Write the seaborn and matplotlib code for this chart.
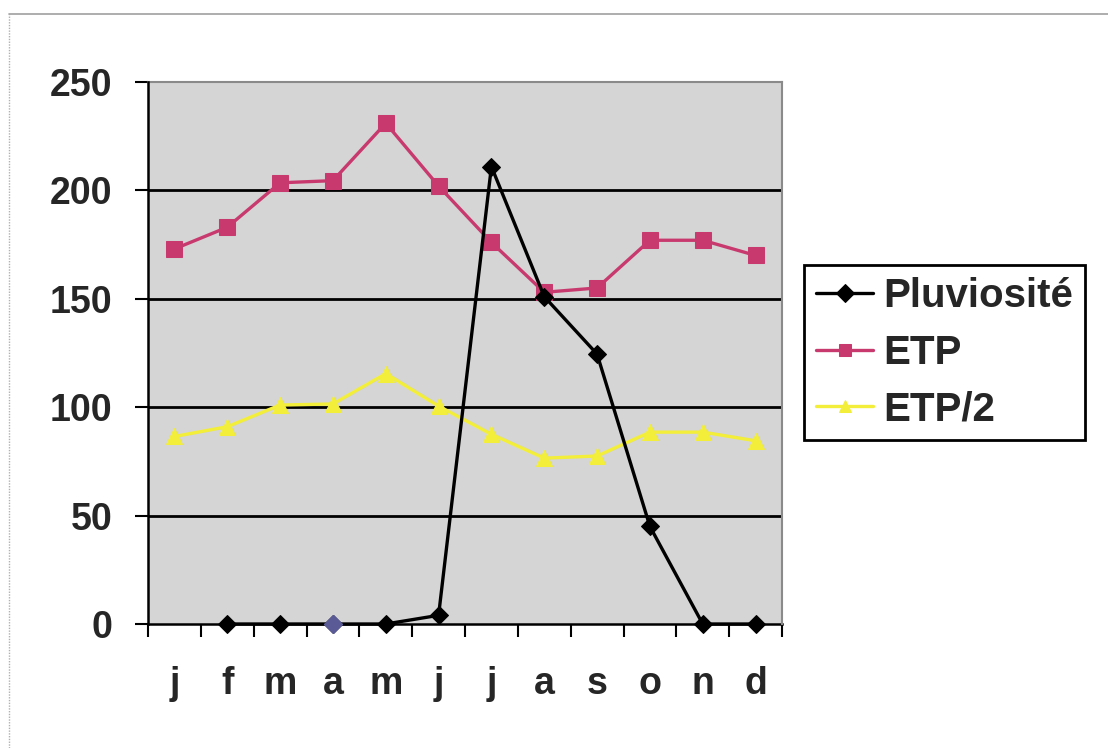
import numpy as np
import pandas as pd
import matplotlib
matplotlib.use("Agg")
import matplotlib.pyplot as plt
import seaborn as sns
from matplotlib.lines import Line2D
from matplotlib.ticker import FixedLocator, NullFormatter

# Monthly data
months = ["j", "f", "m", "a", "m", "j", "j", "a", "s", "o", "n", "d"]
pluviosite = [np.nan, 0, 0, 0, 0, 4, 211, 151, 124.5, 45, 0, 0]
etp = [173, 183, 203.5, 204.5, 231, 202, 176, 153, 155, 177, 177, 170]
etp_demi = [86.5, 91, 101, 101.5, 115.5, 100.5, 87.5, 76.5, 77.5, 88.5, 88.5, 84.5]
yticks = [0, 50, 100, 150, 200, 250]

sns.set_style("white")
plt.rcParams["font.family"] = ["Liberation Sans", "DejaVu Sans"]
plt.rcParams["font.weight"] = "bold"

df = pd.DataFrame({
    "pos": np.arange(len(months)),
    "Pluviosité": pluviosite,
    "ETP": etp,
    "ETP/2": etp_demi,
})

fig = plt.figure(figsize=(11.08, 7.48), dpi=100)
ax = fig.add_axes([148 / 1108, 1 - 624 / 748, (782 - 148) / 1108, (624 - 82) / 748])
ax.set_facecolor("#d5d5d5")

styles = {
    "Pluviosité": dict(color="black", marker="D", markersize=9),
    "ETP": dict(color="#c83a6e", marker="s", markersize=11),
    "ETP/2": dict(color="#f2ee3a", marker="^", markersize=12),
}

# Draw the three series
for name in ["ETP/2", "ETP", "Pluviosité"]:
    st = styles[name]
    sns.lineplot(data=df, x="pos", y=name, ax=ax, color=st["color"],
                 marker=st["marker"], markersize=st["markersize"],
                 markeredgecolor=st["color"], linewidth=2.4, label=name,
                 zorder=4 if name == "Pluviosité" else 3, clip_on=False)

# the April rain gauge point is shown with a slate marker
ax.plot(df["pos"][3], df["Pluviosité"][3], marker="D", markersize=9,
        color="#5a5a96", linestyle="none", zorder=7, clip_on=False)

ax.set_xlim(-0.5, len(months) - 0.5)
ax.set_ylim(0, 250)
ax.set_xlabel("")
ax.set_ylabel("")

# horizontal gridlines
for v in yticks[1:-1]:
    ax.axhline(v, color="black", linewidth=2, zorder=2)

ax.xaxis.set_major_locator(FixedLocator(df["pos"].tolist()))
ax.set_xticklabels(months)
ax.xaxis.set_minor_locator(FixedLocator(list(np.arange(-0.5, len(months), 1.0))))
ax.xaxis.set_minor_formatter(NullFormatter())
ax.tick_params(axis="x", which="major", bottom=True, length=0, pad=30, labelsize=27)
ax.tick_params(axis="x", which="minor", bottom=True, length=9, width=1.5,
               direction="out", color="black")
ax.set_yticks(yticks)
ax.tick_params(axis="y", left=True, length=9.5, width=1.5, direction="out",
               color="black", pad=16, labelsize=27)
for lab in ax.get_xticklabels() + ax.get_yticklabels():
    lab.set_fontweight("bold")

for side in ["left", "bottom"]:
    ax.spines[side].set_color("black")
    ax.spines[side].set_linewidth(1.8)
for side in ["top", "right"]:
    ax.spines[side].set_color("#8a8a8a")
    ax.spines[side].set_linewidth(1.5)
ax.spines["left"].set_zorder(6)
ax.spines["bottom"].set_zorder(1)

handles, labels = ax.get_legend_handles_labels()
order = [labels.index(n) for n in ["Pluviosité", "ETP", "ETP/2"]]
ax.get_legend().remove()
leg = fig.legend([handles[i] for i in order], [labels[i] for i in order],
                 loc="upper left", bbox_to_anchor=(804 / 1108, 1 - 265 / 748),
                 borderaxespad=0, frameon=True, fancybox=False, framealpha=1,
                 edgecolor="black", facecolor="white",
                 handlelength=1.42, handletextpad=0.25, labelspacing=0.46,
                 borderpad=0.3, prop={"weight": "bold", "size": 29})
leg.get_frame().set_linewidth(2)
for h in leg.legend_handles:
    h.set_markersize(9)

# page border
fig.add_artist(Line2D([9 / 1108, 9 / 1108], [0, 1 - 14 / 748], color="#b0b0b0",
                      linewidth=1, linestyle=(0, (1, 1)), transform=fig.transFigure))
fig.add_artist(Line2D([9 / 1108, 1], [1 - 14 / 748, 1 - 14 / 748], color="#a0a0a0",
                      linewidth=1.2, transform=fig.transFigure))

fig.savefig("out.png", dpi=100, facecolor="white")
